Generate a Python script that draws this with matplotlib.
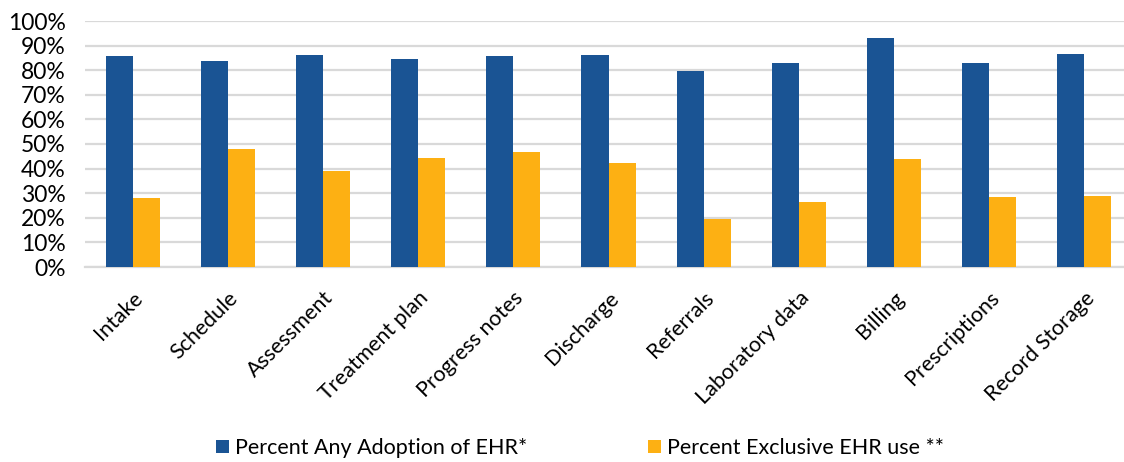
import numpy as np
import matplotlib.pyplot as plt
from matplotlib.ticker import PercentFormatter

plt.rcParams['font.family'] = ['Lato', 'DejaVu Sans']

# Data (percent of respondents)
categories = ['Intake', 'Schedule', 'Assessment', 'Treatment plan', 'Progress notes',
              'Discharge', 'Referrals', 'Laboratory data', 'Billing', 'Prescriptions',
              'Record Storage']
any_adoption = [85.9, 83.6, 86.3, 84.4, 85.9, 86.0, 79.8, 83.1, 93.2, 82.8, 86.4]
exclusive_use = [27.9, 48.1, 39.2, 44.4, 46.7, 42.1, 19.6, 26.3, 44.0, 28.3, 28.7]

blue = '#1a5494'
orange = '#fdb013'
grid_col = '#d9d9d9'

fig = plt.figure(figsize=(11.24, 4.62), dpi=100)
# axes run slightly past the right edge of the figure
ax = fig.add_axes([85 / 1124, 1 - 267 / 462, 1047 / 1124, 246 / 462])

x = np.arange(len(categories))
w = 0.284
ax.bar(x - w / 2, any_adoption, w, color=blue, label='Percent Any Adoption of EHR*', zorder=3)
ax.bar(x + w / 2, exclusive_use, w, color=orange, label='Percent Exclusive EHR use **', zorder=3)

ax.set_xlim(-0.5, len(categories) - 0.5)
ax.set_ylim(0, 100)
ax.set_yticks(np.arange(0, 101, 10))
ax.yaxis.set_major_formatter(PercentFormatter(decimals=0))
ax.grid(axis='y', color=grid_col, linewidth=1.6, zorder=0)

ax.set_xticks(x)
ax.set_xticklabels(categories, rotation=45, ha='right', va='top',
                   rotation_mode='anchor', fontsize=15.5, color='#000000')
ax.tick_params(axis='x', length=0, pad=15)
ax.tick_params(axis='y', length=0, pad=14, labelsize=16.5, labelcolor='#000000')

for side in ['top', 'right', 'left']:
    ax.spines[side].set_visible(False)
ax.spines['bottom'].set_color(grid_col)
ax.spines['bottom'].set_linewidth(1.6)

fig.legend(loc='center', bbox_to_anchor=(580 / 1124, 1 - 448 / 462), ncol=2, frameon=False,
           fontsize=15.5, handlelength=0.6, handleheight=0.6, handletextpad=0.3,
           columnspacing=5.6)

fig.savefig('out.png', dpi=100)
